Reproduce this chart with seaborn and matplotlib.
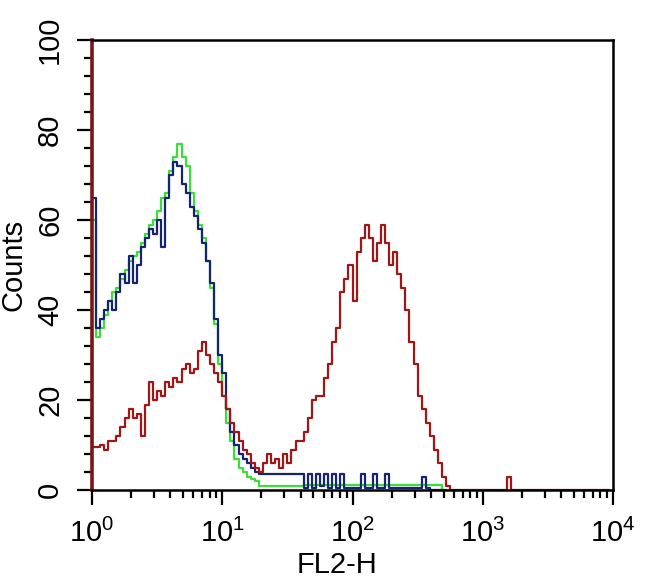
import matplotlib
matplotlib.use("Agg")
import matplotlib.pyplot as plt
from matplotlib.ticker import LogLocator, MultipleLocator, NullFormatter
import numpy as np
import pandas as pd
import seaborn as sns

# -----------------------------------------------------
# DATA (histogram counts per channel, 32 channels / decade)
# -----------------------------------------------------

channels_per_decade = 32

red_counts = [
    9.5, 9.5, 10, 9, 11, 11, 12, 14, 16, 18, 16, 17, 12, 19, 24, 20,
    22, 21, 24, 23, 25, 24, 27, 28, 26, 27, 31, 33, 30, 28, 26, 24,
    21, 18, 15, 13, 11, 9, 8, 6, 5, 4, 6, 8, 6, 7, 5, 8,
    6, 9, 11, 11, 13, 16, 20, 21, 21, 25, 28, 33, 36, 44, 47, 50,
    42, 53, 56, 59, 56, 51, 55, 59, 55, 50, 53, 48, 45, 40, 33, 28,
    21, 18, 15, 12, 9, 6, 3, 1, 0, 0, 0, 0, 0, 0, 0, 0,
    0, 0, 0, 0, 0, 0, 3, 0, 0, 0, 0, 0, 0, 0, 0, 0,
    0, 0, 0, 0, 0, 0, 0, 0, 0, 0, 0, 0, 0, 0, 0, 0,
]

blue_counts = [
    65, 36, 38, 40, 42, 40, 44, 48, 46, 52, 46, 50, 54, 56, 58, 57,
    60, 54, 65, 70, 73, 72, 68, 66, 63, 61, 58, 55, 51, 46, 38, 30,
    26, 18, 13, 10, 8, 7, 6, 5, 4, 3.5, 3.5, 3.5, 3.5, 3.5, 3.5, 3.5,
    3.5, 3.5, 3.5, 3.5, 0.5, 3.5, 0.5, 3.5, 0.8, 3.5, 0.5, 3.5, 0.5, 3.5, 0.5, 0.5,
    0.5, 0.5, 3.5, 0.5, 0.5, 3.5, 0.5, 0.5, 3.5, 0.5, 0.5, 0.5, 0.5, 0.5, 0.5, 0.5,
    0.5, 3, 0.5, 0, 0, 0, 0, 0,
]

green_counts = [
    60, 34, 36, 39, 42, 44, 45, 47, 49, 51, 52, 53, 55, 57, 59, 60,
    62, 65, 66, 71, 74, 77, 74, 72, 66, 62, 59, 56, 51, 45, 37, 28,
    21, 15, 11, 7, 5, 4, 3, 2.5, 2, 0.8, 0.8, 0.8, 0.8, 0.8, 0.8, 0.8,
    0.8, 0.8, 0.8, 0.8, 1.2, 1.2, 1.2, 1.2, 1.2, 1.2, 1.2, 1.2, 1.2, 1.2, 1.2, 1.2,
    1.2, 1.2, 1.2, 1.2, 1.2, 1.2, 1.2, 1.2, 1.2, 1.2, 1.2, 1.2, 1.2, 1.2, 1.2, 1.2,
    1.2, 1.2, 1.2, 1.2, 1.2, 1.2, 0, 0,
]

x_ticks = [1, 10, 100, 1000, 10000]
x_tick_labels = [r"$\mathregular{10^{0}}$", r"$\mathregular{10^{1}}$",
                 r"$\mathregular{10^{2}}$", r"$\mathregular{10^{3}}$",
                 r"$\mathregular{10^{4}}$"]
y_ticks = [0, 20, 40, 60, 80, 100]

series_colors = {
    "green": "#3ede3a",
    "blue": "#14246e",
    "red": "#9e1616",
}


# -----------------------------------------------------
# LONG FORM TABLE
# -----------------------------------------------------

def to_frame(counts, name):
    ch = np.arange(len(counts))
    return pd.DataFrame({
        "FL2-H": 10.0 ** (ch / channels_per_decade),
        "Counts": counts,
        "sample": name,
    })


df = pd.concat([
    to_frame(green_counts, "green"),
    to_frame(blue_counts, "blue"),
    to_frame(red_counts, "red"),
], ignore_index=True)

# -----------------------------------------------------
# PLOT
# -----------------------------------------------------

sns.set_style("ticks")
plt.rcParams["font.family"] = ["Liberation Sans", "DejaVu Sans"]
plt.rcParams["mathtext.fontset"] = "custom"
plt.rcParams["mathtext.rm"] = "Liberation Sans"

fig = plt.figure(figsize=(6.5, 5.79), dpi=100)
ax = fig.add_axes([92 / 650, 1 - 490 / 579, 521 / 650, 450 / 579])

sns.lineplot(
    data=df,
    x="FL2-H",
    y="Counts",
    hue="sample",
    hue_order=["green", "blue", "red"],
    palette=series_colors,
    estimator=None,
    drawstyle="steps-post",
    linewidth=1.6,
    legend=False,
    ax=ax,
)

ax.set_xscale("log")
ax.set_xlim(1, 10000)
ax.set_ylim(0, 100)

ax.set_xticks(x_ticks)
ax.set_xticklabels(x_tick_labels)
ax.xaxis.set_minor_locator(LogLocator(base=10, subs=np.arange(2, 10)))
ax.xaxis.set_minor_formatter(NullFormatter())

ax.set_yticks(y_ticks)
ax.yaxis.set_minor_locator(MultipleLocator(4))
for lab in ax.get_yticklabels():
    lab.set_rotation(90)
    lab.set_va("center")

ax.tick_params(which="major", direction="out", length=11, width=1.6,
               labelsize=21, color="black", labelcolor="black")
ax.tick_params(which="minor", direction="out", length=6, width=1.6,
               color="black")
ax.tick_params(axis="y", pad=9)
ax.tick_params(axis="x", pad=10)

for side in ["top", "right", "bottom", "left"]:
    ax.spines[side].set_linewidth(1.8)
    ax.spines[side].set_color("black")
ax.spines["left"].set_color("#7a1616")
ax.spines["left"].set_linewidth(2.6)

ax.set_xlabel("FL2-H", fontsize=21, color="black")
ax.set_ylabel("Counts", fontsize=21, color="black")
ax.xaxis.set_label_coords(0.47, -0.135)
ax.yaxis.set_label_coords(-0.123, 0.5)

fig.savefig("out.png", dpi=100)
plt.close(fig)
